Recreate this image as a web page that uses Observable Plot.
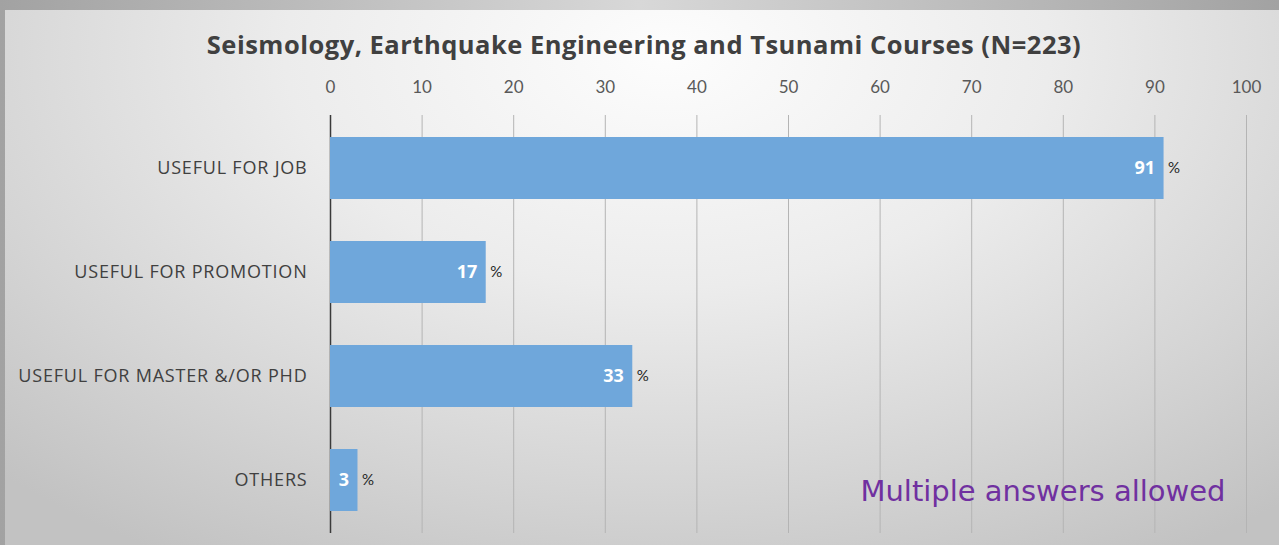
<!DOCTYPE html>
<html><head><meta charset="utf-8">
<script src="https://cdn.jsdelivr.net/npm/d3@7"></script>
<script src="https://cdn.jsdelivr.net/npm/@observablehq/plot@0.6"></script>
<style>
html,body{margin:0;padding:0;}
body{width:1279px;height:545px;overflow:hidden;position:relative;background:linear-gradient(90deg,#a2a2a2 0%,#d8d8d8 50%,#a2a2a2 100%);}
#bg{position:absolute;left:5px;top:10px;width:1274px;height:535px;background:radial-gradient(ellipse 75% 110% at 52% 8%, #fdfdfd 0%, #ececec 40%, #d4d4d4 75%, #c2c2c2 100%);}
#title{position:absolute;left:0;top:27px;width:1288px;text-align:center;font-family:"Open Sans",sans-serif;font-weight:bold;font-size:25.5px;letter-spacing:0.5px;color:#404040;}
#chart{position:absolute;left:0;top:0;}
.yax text{letter-spacing:0.8px;}
</style></head>
<body>
<div id="bg"></div>
<div id="chart"></div>
<div id="title">Seismology, Earthquake Engineering and Tsunami Courses (N=223)</div>
<script>
const categories = ["USEFUL FOR JOB", "USEFUL FOR PROMOTION", "USEFUL FOR MASTER &/OR PHD", "OTHERS"];
const values = [91, 17, 33, 3];
const xTicks = [0, 10, 20, 30, 40, 50, 60, 70, 80, 90, 100];
const note = "Multiple answers allowed";

const data = categories.map((c, i) => ({category: c, value: values[i]}));

const chart = Plot.plot({
  width: 1279,
  height: 545,
  marginLeft: 330,
  marginRight: 33,
  marginTop: 115,
  marginBottom: 12,
  style: {background: "transparent", fontFamily: "Lato, sans-serif", fontSize: "17px", overflow: "visible"},
  x: {domain: [0, 100], label: null},
  y: {domain: categories, paddingInner: 0.4, paddingOuter: 0.2, label: null},
  marks: [
    Plot.gridX(xTicks.slice(1), {stroke: "#b4b4b4", strokeOpacity: 1, strokeWidth: 1}),
    Plot.ruleX([0], {stroke: "#3a3a3a", strokeWidth: 1.5}),
    Plot.barX(data, {x: "value", y: "category", fill: "#6fa7db"}),
    Plot.axisX(xTicks, {anchor: "top", tickSize: 0, tickPadding: 23, fill: "#595959", fontSize: 17, label: null}),
    Plot.axisY({className: "yax", tickSize: 0, tickPadding: 23, fill: "#404040", fontSize: 18, fontFamily: "Open Sans, sans-serif", label: null}),
    Plot.text(data, {x: "value", y: "category", text: d => String(d.value), textAnchor: "end", dx: -9, fill: "white", fontWeight: "bold", fontSize: 18, fontFamily: "Open Sans, sans-serif"}),
    Plot.text(data, {x: "value", y: "category", text: () => "%", textAnchor: "start", dx: 4, fill: "#262626", fontSize: 15}),
    Plot.text([note], {frameAnchor: "bottom-right", textAnchor: "end", dx: -21, dy: -33, fill: "#7030a0", fontSize: 29, fontFamily: "DejaVu Sans"})
  ]
});
document.getElementById("chart").appendChild(chart);
</script>
</body></html>
